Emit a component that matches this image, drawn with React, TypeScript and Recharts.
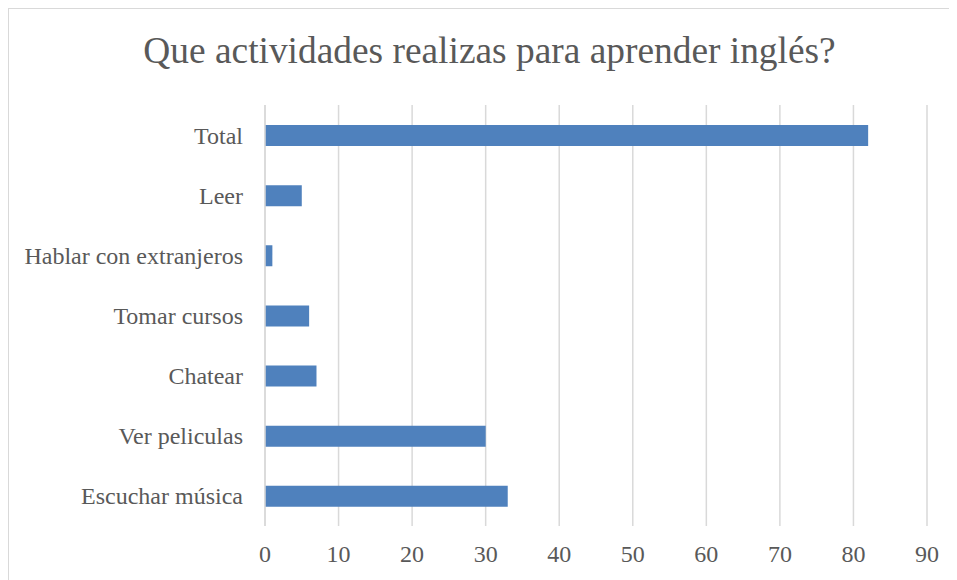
import React from "react";
import { BarChart, Bar, XAxis, YAxis, CartesianGrid } from "recharts";

const categories = [
  "Total",
  "Leer",
  "Hablar con extranjeros",
  "Tomar cursos",
  "Chatear",
  "Ver peliculas",
  "Escuchar música",
];
const values = [82, 5, 1, 6, 7, 30, 33];
const xTicks = [0, 10, 20, 30, 40, 50, 60, 70, 80, 90];
const title = "Que actividades realizas para aprender inglés?";

const data = categories.map((name, i) => ({ name, value: values[i] }));

const FONT = '"Liberation Serif", "Times New Roman", serif';
const TEXT = "#595959";
const GRID = "#d9d9d9";

export default function App() {
  return (
    <div style={{ width: 1000, height: 572, overflow: "hidden" }}>
      <style>{`html,body{overflow:hidden}`}</style>
      <div
        style={{
          position: "relative",
          width: 980,
          height: 600,
          border: `1px solid ${GRID}`,
          background: "#fff",
        }}
      >
        <div
          style={{
            position: "absolute",
            left: 0,
            top: 23,
            width: 961,
            textAlign: "center",
            fontFamily: FONT,
            fontSize: 37.4,
            lineHeight: "37px",
            color: TEXT,
            whiteSpace: "nowrap",
          }}
        >
          {title}
        </div>
        <BarChart
          width={948}
          height={571}
          data={data}
          layout="vertical"
          margin={{ top: 96, right: 30, bottom: 0, left: 0 }}
          barCategoryGap={0}
        >
          <CartesianGrid horizontal={false} vertical={true} stroke={GRID} strokeWidth={1.5} />
          <XAxis
            type="number"
            domain={[0, 90]}
            ticks={xTicks}
            interval={0}
            axisLine={false}
            tickLine={false}
            tickSize={0}
            tickMargin={19}
            height={54}
            tick={{ fill: TEXT, fontSize: 24, fontFamily: FONT }}
          />
          <YAxis
            type="category"
            dataKey="name"
            width={256}
            interval={0}
            axisLine={{ stroke: GRID, strokeWidth: 1.5 }}
            tickLine={false}
            tickSize={0}
            tickMargin={22}
            tick={{ fill: TEXT, fontSize: 24, fontFamily: FONT }}
          />
          <Bar dataKey="value" fill="#4f81bd" barSize={21} isAnimationActive={false} />
        </BarChart>
      </div>
    </div>
  );
}
